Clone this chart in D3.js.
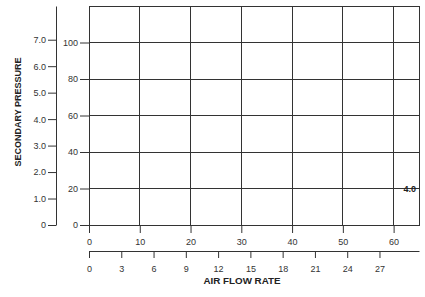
<!DOCTYPE html>
<html>
<head>
<meta charset="utf-8">
<script src="https://cdn.jsdelivr.net/npm/d3@7"></script>
<style>
  body { margin: 0; background: #fff; }
  svg { display: block; font-family: "Liberation Sans", Arial, sans-serif; }
  .tick text { fill: #333; font-size: 9px; font-family: "Liberation Sans", Arial, sans-serif; }
  .axis-title { font-weight: bold; fill: #222; }
</style>
</head>
<body>
<div id="chart"></div>
<script>
// chart values
const flowTicks = [0, 10, 20, 30, 40, 50, 60];          // SCFM
const flowMetricTicks = [0, 3, 6, 9, 12, 15, 18, 21, 24, 27]; // L/s
const psiTicks = [0, 20, 40, 60, 80, 100];
const barTicks = [0, 1.0, 2.0, 3.0, 4.0, 5.0, 6.0, 7.0];
const flowMax = 65;
const psiMax = 120;
const curveLabels = [{ text: "4.0", flow: 65, psi: 20 }];

const SCFM_TO_LPS = 0.4719;
const PSI_TO_BAR = 0.0689476;

const width = 425, height = 297;
const plotLeft = 89, plotRight = 419, plotTop = 6, plotBottom = 225;

const svg = d3.select("#chart").append("svg")
    .attr("width", width)
    .attr("height", height);

const x = d3.scaleLinear().domain([0, flowMax]).range([plotLeft, plotRight]);
const x2 = d3.scaleLinear().domain([0, flowMax * SCFM_TO_LPS]).range([plotLeft, plotRight]);
const y = d3.scaleLinear().domain([0, psiMax]).range([plotBottom, plotTop]);
const y2 = d3.scaleLinear().domain([0, psiMax * PSI_TO_BAR]).range([plotBottom, plotTop]);

const lineColor = "#333";

// grid
const grid = svg.append("g").attr("shape-rendering", "crispEdges");
grid.selectAll("line.v")
    .data(flowTicks.filter(d => d > 0))
    .join("line")
    .attr("class", "v")
    .attr("x1", d => x(d)).attr("x2", d => x(d))
    .attr("y1", plotTop).attr("y2", plotBottom)
    .attr("stroke", lineColor);
grid.selectAll("line.h")
    .data(psiTicks.filter(d => d > 0))
    .join("line")
    .attr("class", "h")
    .attr("x1", plotLeft).attr("x2", plotRight)
    .attr("y1", d => y(d)).attr("y2", d => y(d))
    .attr("stroke", lineColor);
grid.append("rect")
    .attr("x", plotLeft).attr("y", plotTop)
    .attr("width", plotRight - plotLeft).attr("height", plotBottom - plotTop)
    .attr("fill", "none")
    .attr("stroke", lineColor);

// psi axis
const psiAxis = svg.append("g")
    .attr("transform", `translate(${plotLeft},0)`)
    .call(d3.axisLeft(y).tickValues(psiTicks).tickSize(9).tickPadding(2).tickSizeOuter(0));
psiAxis.select(".domain").remove();

// bar axis
svg.append("g")
    .attr("transform", "translate(56,0)")
    .call(d3.axisLeft(y2).tickValues(barTicks).tickSize(8).tickPadding(2).tickSizeOuter(0)
        .tickFormat(d => d === 0 ? "0" : d3.format(".1f")(d)));

// scfm axis
const flowAxis = svg.append("g")
    .attr("transform", `translate(0,${plotBottom})`)
    .call(d3.axisBottom(x).tickValues(flowTicks).tickSize(8).tickPadding(6).tickSizeOuter(0));
flowAxis.select(".domain").remove();

// L/s axis
svg.append("g")
    .attr("transform", "translate(0,251)")
    .call(d3.axisBottom(x2).tickValues(flowMetricTicks).tickSize(7).tickPadding(8).tickSizeOuter(0));

svg.selectAll(".tick line, .domain").attr("stroke", lineColor);

// titles
svg.append("text")
    .attr("class", "axis-title")
    .attr("font-size", 9)
    .attr("transform", "translate(21,112) rotate(-90)")
    .attr("text-anchor", "middle")
    .text("SECONDARY PRESSURE");

svg.append("text")
    .attr("class", "axis-title")
    .attr("font-size", 9.8)
    .attr("x", 242).attr("y", 284)
    .attr("text-anchor", "middle")
    .text("AIR FLOW RATE");

// curve label
svg.selectAll("text.curve")
    .data(curveLabels)
    .join("text")
    .attr("class", "curve")
    .attr("x", d => x(d.flow) - 3)
    .attr("y", d => y(d.psi) + 3)
    .attr("text-anchor", "end")
    .attr("font-size", 9)
    .attr("font-weight", "bold")
    .attr("fill", "#222")
    .text(d => d.text);
</script>
</body>
</html>
